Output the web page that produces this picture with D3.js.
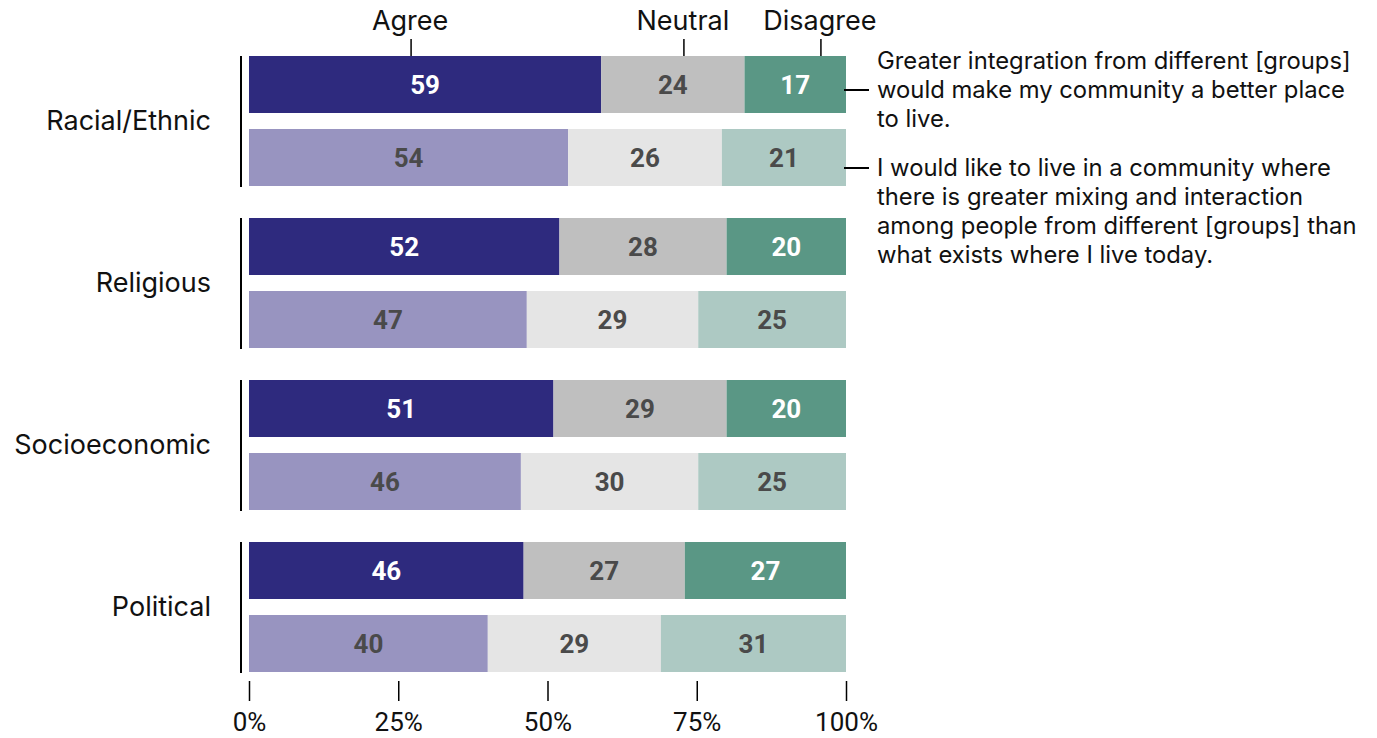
<!DOCTYPE html>
<html>
<head>
<meta charset="utf-8">
<script src="https://cdn.jsdelivr.net/npm/d3@7"></script>
<style>
  html, body { margin: 0; padding: 0; background: #fff; }
  svg { display: block; font-family: Inter, Roboto, sans-serif; }
</style>
</head>
<body>
<svg id="chart" width="1377" height="738"></svg>
<script>
// Survey dimensions (one bar pair per dimension)
const categories = ["Racial/Ethnic", "Religious", "Socioeconomic", "Political"];
// The two statements, top bar and bottom bar within each dimension
const statements = ["integration", "mixing"];
const responses = ["Agree", "Neutral", "Disagree"];

// Percent answering each way, by dimension
const integrationAgree    = [59, 52, 51, 46];
const integrationNeutral  = [24, 28, 29, 27];
const integrationDisagree = [17, 20, 20, 27];
const mixingAgree    = [54, 47, 46, 40];
const mixingNeutral  = [26, 29, 30, 29];
const mixingDisagree = [21, 25, 25, 31];

const tickValues = [0, 0.25, 0.5, 0.75, 1];
const tickLabels = ["0%", "25%", "50%", "75%", "100%"];

const statementText = {
  integration: ["Greater integration from different [groups]",
                "would make my community a better place",
                "to live."],
  mixing: ["I would like to live in a community where",
           "there is greater mixing and interaction",
           "among people from different [groups] than",
           "what exists where I live today."]
};

// Build rows: one per (dimension, statement)
const rows = [];
categories.forEach((c, i) => {
  rows.push({ category: c, statement: "integration",
    Agree: integrationAgree[i], Neutral: integrationNeutral[i], Disagree: integrationDisagree[i] });
  rows.push({ category: c, statement: "mixing",
    Agree: mixingAgree[i], Neutral: mixingNeutral[i], Disagree: mixingDisagree[i] });
});

const fills = {
  integration: { Agree: "#2e2a7e", Neutral: "#bfbfbf", Disagree: "#5a9785" },
  mixing:      { Agree: "#9894c0", Neutral: "#e5e5e5", Disagree: "#adc9c3" }
};
const labelFill = {
  integration: { Agree: "#ffffff", Neutral: "#4a4a4a", Disagree: "#ffffff" },
  mixing:      { Agree: "#4a4a4a", Neutral: "#4a4a4a", Disagree: "#4a4a4a" }
};

const svg = d3.select("#chart");

const x = d3.scaleLinear().domain([0, 1]).range([249, 846]);

const yGroup = d3.scaleBand()
  .domain(categories)
  .range([56, 673])
  .paddingInner(31 / 162)
  .paddingOuter(0);

const yRow = d3.scaleBand()
  .domain(statements)
  .range([0, yGroup.bandwidth() - 1])
  .paddingInner(16 / 73)
  .paddingOuter(0);

// Shares normalised to each row's total
const stack = d3.stack().keys(responses).offset(d3.stackOffsetExpand);
const series = stack(rows);

const bars = svg.append("g");
series.forEach(s => {
  const key = s.key;
  const g = bars.append("g");
  g.selectAll("rect")
    .data(s)
    .join("rect")
    .attr("x", d => x(d[0]))
    .attr("width", d => x(d[1]) - x(d[0]))
    .attr("y", d => yGroup(d.data.category) + yRow(d.data.statement))
    .attr("height", yRow.bandwidth())
    .attr("fill", d => fills[d.data.statement][key]);

  g.selectAll("text")
    .data(s)
    .join("text")
    .attr("x", d => (x(d[0]) + x(d[1])) / 2)
    .attr("y", d => yGroup(d.data.category) + yRow(d.data.statement) + yRow.bandwidth() / 2)
    .attr("dy", "0.36em")
    .attr("text-anchor", "middle")
    .attr("font-family", "Roboto, sans-serif")
    .attr("font-size", 26)
    .attr("font-weight", 700)
    .attr("fill", d => labelFill[d.data.statement][key])
    .text(d => d.data[key]);
});

// Brackets and dimension names
const groups = svg.append("g");
groups.selectAll("line")
  .data(categories)
  .join("line")
  .attr("x1", 241).attr("x2", 241)
  .attr("y1", d => yGroup(d))
  .attr("y2", d => yGroup(d) + yGroup.bandwidth())
  .attr("stroke", "#000")
  .attr("stroke-width", 2);

groups.selectAll("text")
  .data(categories)
  .join("text")
  .attr("x", 211)
  .attr("y", d => yGroup(d) + yGroup.bandwidth() / 2)
  .attr("dy", "0.33em")
  .attr("text-anchor", "end")
  .attr("font-size", 27)
  .attr("fill", "#111")
  .text(d => d);

// Response headers above the first bar
const headerPos = { Agree: 0.2715, Neutral: 0.7285, Disagree: 0.958 };
const head = svg.append("g");
responses.forEach(r => {
  head.append("line")
    .attr("x1", x(headerPos[r])).attr("x2", x(headerPos[r]))
    .attr("y1", 39).attr("y2", 56)
    .attr("stroke", "#000").attr("stroke-width", 1.5);
  head.append("text")
    .attr("x", x(headerPos[r]) - 1)
    .attr("y", 30)
    .attr("text-anchor", "middle")
    .attr("font-size", 27)
    .attr("fill", "#111")
    .text(r);
});

// Bottom percentage axis
const axis = d3.axisBottom(x)
  .tickValues(tickValues)
  .tickFormat((d, i) => tickLabels[i])
  .tickSize(20)
  .tickPadding(12);
const axisG = svg.append("g")
  .attr("transform", "translate(0,681)")
  .call(axis);
axisG.select(".domain").remove();
axisG.selectAll(".tick line").attr("stroke", "#000").attr("stroke-width", 1.5);
axisG.selectAll(".tick text")
  .attr("font-size", 26)
  .attr("font-family", "Roboto, sans-serif")
  .attr("fill", "#111");

// Statement legend on the right, tied to the first pair of bars
const legend = svg.append("g");
const lineH = 29;
const legendSpec = [
  { key: "integration", top: 69, connectorLine: 1 },
  { key: "mixing", top: 176, connectorLine: 0 }
];
legendSpec.forEach(spec => {
  const lines = statementText[spec.key];
  const t = legend.append("text")
    .attr("x", 877)
    .attr("y", spec.top)
    .attr("font-size", 23.8)
    .attr("fill", "#111");
  lines.forEach((l, i) => {
    t.append("tspan").attr("x", 877).attr("y", spec.top + i * lineH).text(l);
  });
  const cy = spec.top + spec.connectorLine * lineH - 8;
  legend.append("line")
    .attr("x1", x(1) - 2).attr("x2", 869)
    .attr("y1", cy).attr("y2", cy)
    .attr("stroke", "#000").attr("stroke-width", 2);
});
</script>
</body>
</html>
